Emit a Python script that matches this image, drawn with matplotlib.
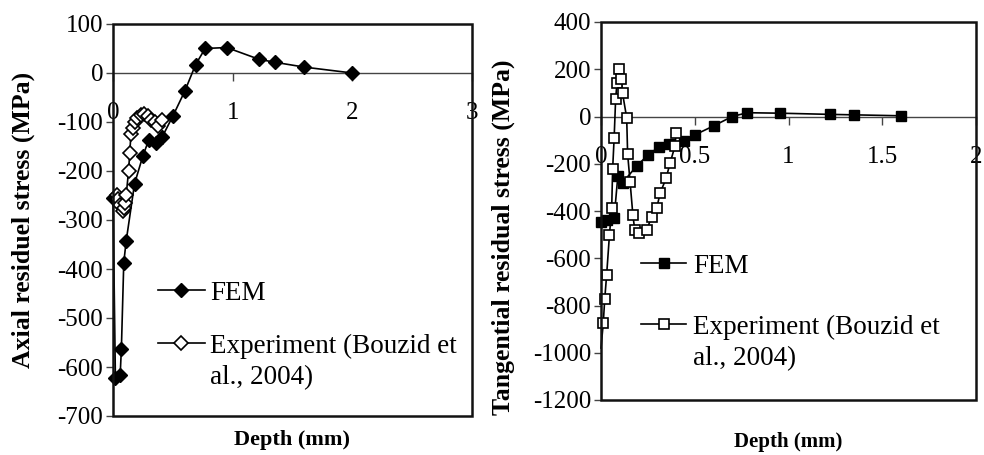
import numpy as np
import matplotlib
matplotlib.use("Agg")
import matplotlib.pyplot as plt
from matplotlib.patches import Rectangle

plt.rcParams['font.family'] = ['Liberation Serif', 'DejaVu Serif']
plt.rcParams['axes.unicode_minus'] = False

# axial residual stress (left chart)
axial_fem_x = [0.0, 0.02, 0.06, 0.07, 0.09, 0.11, 0.18, 0.25, 0.30, 0.36, 0.41,
               0.50, 0.60, 0.69, 0.77, 0.95, 1.22, 1.35, 1.60, 2.0]
axial_fem_y = [-255, -622, -616, -563, -387, -343, -226, -169, -136, -142, -131,
               -88, -37, 17, 50, 52, 28, 22, 12, 0]
axial_exp_x = [0.03, 0.04, 0.06, 0.08, 0.09, 0.10, 0.11, 0.13, 0.14, 0.15, 0.17,
               0.18, 0.20, 0.23, 0.26, 0.29, 0.32, 0.35, 0.38, 0.41]
axial_exp_y = [-248, -258, -270, -282, -275, -265, -250, -200, -163, -124, -113,
               -101, -91, -85, -84, -88, -95, -100, -108, -96]

# tangential residual stress (right chart)
tang_fem_x = [0.0, 0.03, 0.07, 0.09, 0.115, 0.19, 0.25, 0.31, 0.36, 0.44, 0.50,
              0.60, 0.70, 0.78, 0.955, 1.22, 1.35, 1.60]
tang_fem_y = [-445, -440, -430, -250, -280, -210, -163, -128, -116, -102, -78,
              -40, 0, 16, 14, 9, 7, 3]
tang_exp_x = [0.0, 0.012, 0.02, 0.03, 0.045, 0.057, 0.062, 0.07, 0.078, 0.085,
              0.096, 0.105, 0.115, 0.137, 0.142, 0.155, 0.17, 0.18, 0.20, 0.244,
              0.27, 0.297, 0.315, 0.347, 0.368, 0.395, 0.40]
tang_exp_y = [-980, -875, -772, -671, -502, -389, -224, -92, 73, 140,
              201, 159, 98, -5, -159, -276, -417, -480, -494, -480,
              -424, -389, -325, -262, -198, -124, -71]

exp_label = 'Experiment (Bouzid et'
exp_label2 = 'al., 2004)'

fig = plt.figure(figsize=(9.84, 4.55), dpi=100)
ax1 = fig.add_axes([113/984, 1-416/455, (472-113)/984, (416-24)/455])
ax2 = fig.add_axes([601/984, 1-400/455, (976-601)/984, (400-22)/455])


def style(ax, ylim, yticks, xlim, xticks, xlabels):
    ax.set_xlim(xlim)
    ax.set_ylim(ylim)
    ax.set_yticks(yticks)
    ax.set_xticks(xticks)
    ax.set_xticklabels(xlabels)
    for s in ['top', 'right', 'left']:
        ax.spines[s].set_visible(False)
    ax.spines['bottom'].set_position(('data', 0))
    ax.spines['bottom'].set_color('#444444')
    ax.spines['bottom'].set_linewidth(1.0)
    ax.add_patch(Rectangle((0, 0), 1, 1, transform=ax.transAxes, fill=False,
                           lw=1.8, ec='#111111', clip_on=False, zorder=5))
    ax.tick_params(axis='y', direction='out', length=5, width=1.0, pad=2,
                   labelsize=18, color='#444444')
    ax.tick_params(axis='x', direction='out', length=6, width=1.0, pad=15,
                   labelsize=18, color='#444444')


style(ax1, (-700, 100), np.arange(-700, 101, 100), (0, 3), [0, 1, 2, 3],
      ['0', '1', '2', '3'])
style(ax2, (-1200, 400), np.arange(-1200, 401, 200), (0, 2),
      [0, 0.5, 1, 1.5, 2], ['0', '0.5', '1', '1.5', '2'])

ax1.plot(axial_fem_x, axial_fem_y, '-', color='black', lw=1.2, marker='D',
         ms=7, mfc='black', mec='black', label='FEM', clip_on=False, zorder=3)
ax1.plot(axial_exp_x, axial_exp_y, '-', color='black', lw=1.2, marker='D',
         ms=7, mfc='white', mec='black', mew=1.2, label=exp_label,
         clip_on=False, zorder=4)

ax2.plot(tang_fem_x, tang_fem_y, '-', color='black', lw=1.2, marker='s',
         ms=7.5, mfc='black', mec='black', label='FEM', clip_on=False, zorder=3)
ax2.plot(tang_exp_x, tang_exp_y, '-', color='black', lw=1.2, marker='s',
         ms=7.5, mfc='white', mec='black', mew=1.2, label=exp_label,
         markevery=list(range(1, len(tang_exp_x))), clip_on=False, zorder=4)

ax1.set_ylabel('Axial residuel stress (MPa)', fontsize=18.5, fontweight='bold')
ax1.set_xlabel('Depth (mm)', fontsize=16, fontweight='bold')
ax2.set_ylabel('Tangential residual stress (MPa)', fontsize=18.5,
               fontweight='bold')
ax2.set_xlabel('Depth (mm)', fontsize=15, fontweight='bold')
ax1.yaxis.set_label_coords(-0.217, 0.5)
ax1.xaxis.set_label_coords(0.5, -0.036)
ax2.yaxis.set_label_coords(-0.229, 0.43)
ax2.xaxis.set_label_coords(0.5, -0.085)

legends = []
legends.append(ax1.legend(loc='upper left', bbox_to_anchor=(0.125, 0.345),
                          frameon=False, fontsize=19.5, handlelength=1.74,
                          handletextpad=0.2, labelspacing=1.02, borderpad=0,
                          borderaxespad=0))
legends.append(ax2.legend(loc='upper left', bbox_to_anchor=(0.107, 0.387),
                          frameon=False, fontsize=19.5, handlelength=1.67,
                          handletextpad=0.25, labelspacing=1.32, borderpad=0,
                          borderaxespad=0))

# second line of the experiment label, placed under the legend text
fig.canvas.draw()
renderer = fig.canvas.get_renderer()
for leg in legends:
    bb = leg.get_texts()[1].get_window_extent(renderer)
    fig.text(bb.x0 / fig.bbox.width, (bb.y0 - 32) / fig.bbox.height,
             exp_label2, fontsize=19.5, va='bottom', ha='left')

fig.savefig('out.png', dpi=100)
